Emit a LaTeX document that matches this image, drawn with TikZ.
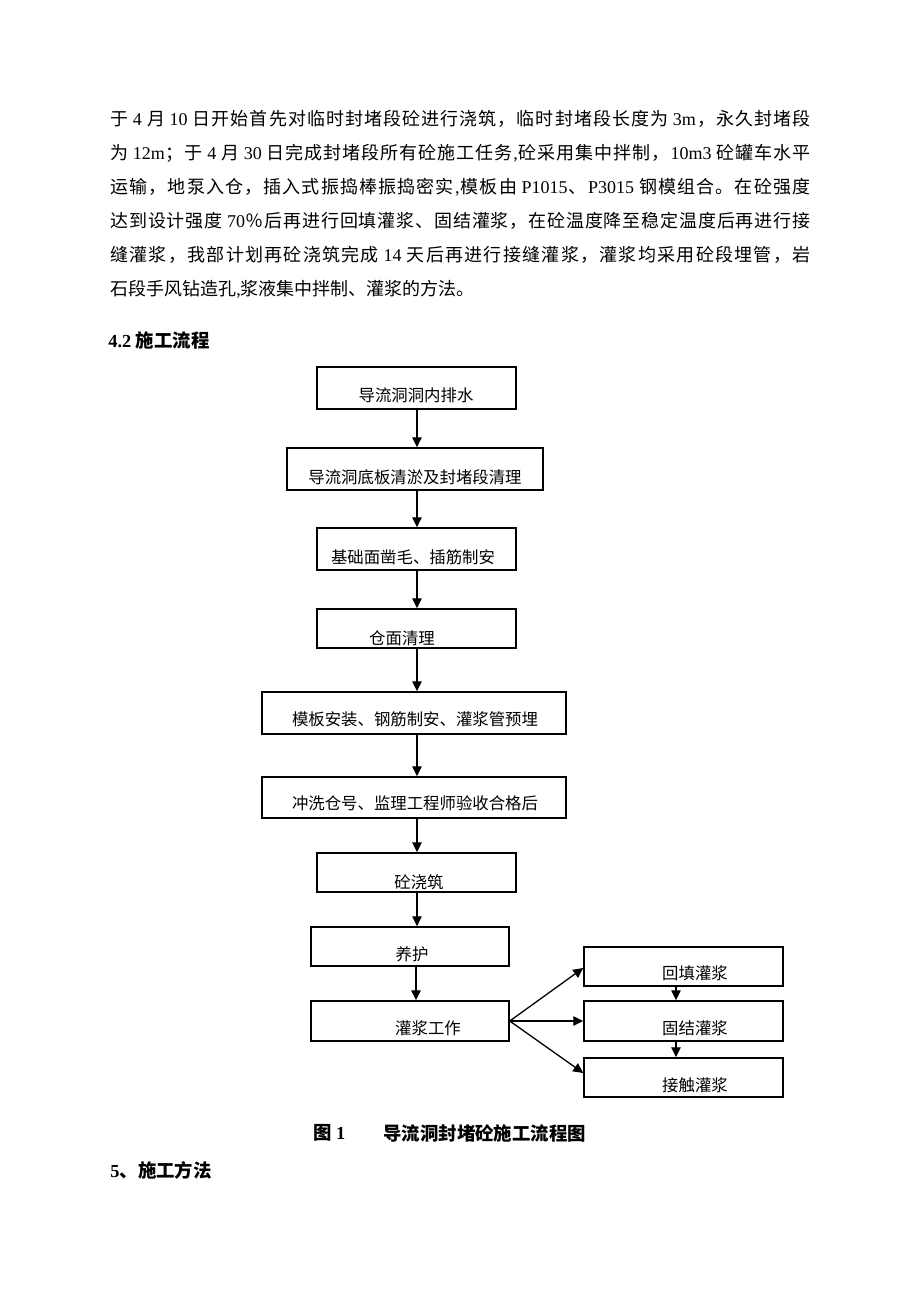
\documentclass[tikz,border=0pt]{standalone}
\usepackage{fontspec}
\setmainfont{Liberation Serif}
\newfontfamily\cjkf{Noto Sans CJK SC}
\usetikzlibrary{arrows.meta,fit}
\XeTeXinterchartokenstate=1
\newXeTeXintercharclass\cjkcls
\newcount\cjkcnt
\cjkcnt="3000
\loop \XeTeXcharclass\cjkcnt=\cjkcls \advance\cjkcnt by 1 \ifnum\cjkcnt<"A000 \repeat
\cjkcnt="FF00
\loop \XeTeXcharclass\cjkcnt=\cjkcls \advance\cjkcnt by 1 \ifnum\cjkcnt<"FFF0 \repeat
\XeTeXinterchartoks 0 \cjkcls = {\cjkf\hskip0pt plus 2pt}
\XeTeXinterchartoks \cjkcls 0 = {\hskip0pt plus 2pt\rmfamily}
\XeTeXinterchartoks \cjkcls \cjkcls = {\hskip0pt plus 2pt}
\XeTeXinterchartoks 4095 \cjkcls = {\cjkf}
\XeTeXinterchartoks 4095 0 = {\rmfamily}
\begin{document}
\begin{tikzpicture}[x=0.5pt,y=-0.5pt,
  box/.style={draw, line width=0.75pt, inner sep=0pt},
  lab/.style={inner sep=0pt, font=\fontsize{8.2pt}{10pt}\selectfont},
  arr/.style={line width=0.65pt, -{Triangle[length=5pt,width=4.8pt]}},
  body/.style={anchor=west, inner sep=0pt, font=\fontsize{9pt}{11pt}\selectfont},
  head/.style={anchor=west, inner sep=0pt, font=\fontsize{9.2pt}{11pt}\selectfont\bfseries}]
\fill[white] (0,0) rectangle (920,1302);
\useasboundingbox (0,0) rectangle (920,1302);
% paragraph
\node[body] (p1) at (110,119) {\makebox[350pt][s]{于 4 月 10 日开始首先对临时封堵段砼进行浇筑，临时封堵段长度为 3m，永久封堵段}};
\node[body] (p2) at (110,153) {\makebox[350pt][s]{为 12m；于 4 月 30 日完成封堵段所有砼施工任务,砼采用集中拌制，10m3 砼罐车水平}};
\node[body] (p3) at (110,187) {\makebox[350pt][s]{运输，地泵入仓，插入式振捣棒振捣密实,模板由 P1015、P3015 钢模组合。在砼强度}};
\node[body] (p4) at (110,221) {\makebox[350pt][s]{达到设计强度 70％后再进行回填灌浆、固结灌浆，在砼温度降至稳定温度后再进行接}};
\node[body] (p5) at (110,255) {\makebox[350pt][s]{缝灌浆，我部计划再砼浇筑完成 14 天后再进行接缝灌浆，灌浆均采用砼段埋管，岩}};
\node[body] (p6) at (110,289) {石段手风钻造孔,浆液集中拌制、灌浆的方法。};
\node[head] (h42) at (108,340) {4.2 施工流程};
% boxes
\node[box, fit={(317,367)(516,409)}] (b1) {};
\node[box, fit={(287,448)(543,490)}] (b2) {};
\node[box, fit={(317,528)(516,570)}] (b3) {};
\node[box, fit={(317,609)(516,648)}] (b4) {};
\node[box, fit={(262,692)(566,734)}] (b5) {};
\node[box, fit={(262,777)(566,818)}] (b6) {};
\node[box, fit={(317,853)(516,892)}] (b7) {};
\node[box, fit={(311,927)(509,966)}] (b8) {};
\node[box, fit={(311,1001)(509,1041)}] (b9) {};
\node[box, fit={(584,947)(783,986)}] (r1) {};
\node[box, fit={(584,1001)(783,1041)}] (r2) {};
\node[box, fit={(584,1058)(783,1097)}] (r3) {};
% labels
\node[lab] (l1) at (416,395) {导流洞洞内排水};
\node[lab] (l2) at (415,477) {导流洞底板清淤及封堵段清理};
\node[lab] (l3) at (413,557) {基础面凿毛、插筋制安};
\node[lab] (l4) at (402,638) {仓面清理};
\node[lab] (l5) at (415,719) {模板安装、钢筋制安、灌浆管预埋};
\node[lab] (l6) at (415,803) {冲洗仓号、监理工程师验收合格后};
\node[lab] (l7) at (419,882) {砼浇筑};
\node[lab] (l8) at (412,954) {养护};
\node[lab] (l9) at (428,1028) {灌浆工作};
\node[lab] (l10) at (695,973) {回填灌浆};
\node[lab] (l11) at (695,1028) {固结灌浆};
\node[lab] (l12) at (695,1085) {接触灌浆};
% arrows
\coordinate (a1) at (417,0);
\coordinate (a2) at (416,0);
\coordinate (a3) at (676,0);
\draw[arr] (b1.south -| a1) -- (b2.north -| a1);
\draw[arr] (b2.south -| a1) -- (b3.north -| a1);
\draw[arr] (b3.south -| a1) -- (b4.north -| a1);
\draw[arr] (b4.south -| a1) -- (b5.north -| a1);
\draw[arr] (b5.south -| a1) -- (b6.north -| a1);
\draw[arr] (b6.south -| a1) -- (b7.north -| a1);
\draw[arr] (b7.south -| a1) -- (b8.north -| a1);
\draw[arr] (b8.south -| a2) -- (b9.north -| a2);
\draw[arr] (r1.south -| a3) -- (r2.north -| a3);
\draw[arr] (r2.south -| a3) -- (r3.north -| a3);
\draw[arr] (b9.east) -- ([yshift=-0.75pt]r1.west);
\draw[arr] (b9.east) -- (r2.west);
\draw[arr] (b9.east) -- ([yshift=2.25pt]r3.west);
% caption
\node[head] (c1) at (313,1133) {图 1};
\node[head] (c2) at (383,1133) {导流洞封堵砼施工流程图};
\node[head] (h5) at (110,1170) {5、施工方法};
\end{tikzpicture}
\end{document}
